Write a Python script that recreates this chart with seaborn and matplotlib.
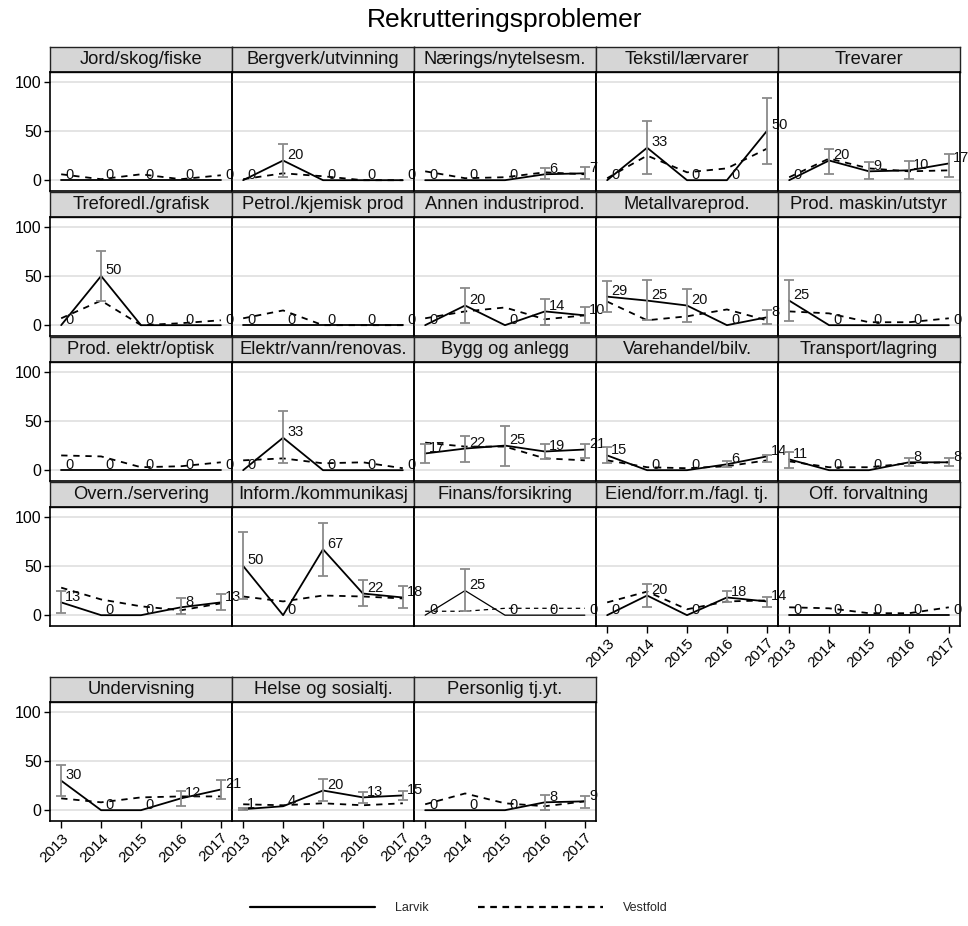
import numpy as np
import pandas as pd
import seaborn as sns
import matplotlib.pyplot as plt
from matplotlib.lines import Line2D

# Data (percent of firms reporting recruitment problems)
years = [2013, 2014, 2015, 2016, 2017]
industries = [
    "Jord/skog/fiske", "Bergverk/utvinning", "Nærings/nytelsesm.", "Tekstil/lærvarer", "Trevarer",
    "Treforedl./grafisk", "Petrol./kjemisk prod", "Annen industriprod.", "Metallvareprod.", "Prod. maskin/utstyr",
    "Prod. elektr/optisk", "Elektr/vann/renovas.", "Bygg og anlegg", "Varehandel/bilv.", "Transport/lagring",
    "Overn./servering", "Inform./kommunikasj", "Finans/forsikring", "Eiend/forr.m./fagl. tj.", "Off. forvaltning",
    "Undervisning", "Helse og sosialtj.", "Personlig tj.yt.",
]
larvik = [
    [0, 0, 0, 0, 0], [0, 20, 0, 0, 0], [0, 0, 0, 6, 7], [0, 33, 0, 0, 50], [0, 20, 9, 10, 17],
    [0, 50, 0, 0, 0], [0, 0, 0, 0, 0], [0, 20, 0, 14, 10], [29, 25, 20, 0, 8], [25, 0, 0, 0, 0],
    [0, 0, 0, 0, 0], [0, 33, 0, 0, 0], [17, 22, 25, 19, 21], [15, 0, 0, 6, 14], [11, 0, 0, 8, 8],
    [13, 0, 0, 8, 13], [50, 0, 67, 22, 18], [0, 25, 0, 0, 0], [0, 20, 0, 18, 14], [0, 0, 0, 0, 0],
    [30, 0, 0, 12, 21], [1, 4, 20, 13, 15], [0, 0, 0, 8, 9],
]
vestfold = [
    [6, 1, 6, 1, 5], [1, 7, 4, 0, 0], [9, 2, 3, 8, 6], [2, 25, 8, 12, 32], [3, 22, 12, 9, 10],
    [7, 25, 0, 2, 5], [7, 15, 0, 0, 0], [7, 14, 18, 6, 10], [24, 5, 9, 16, 5], [14, 12, 3, 3, 7],
    [15, 14, 3, 4, 8], [10, 12, 7, 8, 2], [28, 24, 24, 12, 10], [10, 3, 2, 4, 10], [9, 3, 3, 7, 8],
    [28, 16, 9, 5, 12], [19, 14, 20, 19, 17], [4, 4, 7, 7, 7], [13, 24, 6, 14, 15], [8, 7, 2, 2, 8],
    [12, 8, 13, 14, 14], [6, 5, 7, 5, 7], [6, 17, 7, 4, 9],
]
N = None
ci_low = [
    [N, N, N, N, N], [N, 3, N, N, N], [N, N, N, 1, 1], [N, 6, N, N, 16], [N, 6, 1, 1, 3],
    [N, 25, N, N, N], [N, N, N, N, N], [N, 2, N, 0, 2], [13, 5, 3, N, 1], [4, N, N, N, N],
    [N, N, N, N, N], [N, 7, N, N, N], [7, 8, 4, 11, 12], [7, N, N, 3, 8], [2, N, N, 4, 4],
    [2, N, N, 1, 5], [16, N, 40, 9, 7], [N, 4, N, N, N], [N, 8, N, 13, 8], [N, N, N, N, N],
    [14, N, N, 4, 11], [0, N, 9, 7, 10], [N, N, N, 0, 2],
]
ci_high = [
    [N, N, N, N, N], [N, 37, N, N, N], [N, N, N, 12, 13], [N, 60, N, N, 84], [N, 32, 18, 20, 27],
    [N, 75, N, N, N], [N, N, N, N, N], [N, 38, N, 27, 18], [45, 46, 37, N, 15], [46, N, N, N, N],
    [N, N, N, N, N], [N, 60, N, N, N], [27, 35, 45, 27, 27], [24, N, N, 9, 15], [18, N, N, 12, 12],
    [25, N, N, 17, 22], [85, N, 94, 36, 30], [N, 47, N, N, N], [N, 32, N, 25, 18], [N, N, N, N, N],
    [46, N, N, 19, 31], [2, N, 32, 18, 20], [N, N, N, 15, 14],
]

sns.set_theme(style='white')
plt.rcParams['font.family'] = ['Liberation Sans', 'DejaVu Sans']

rows = []
for name, lv, vf in zip(industries, larvik, vestfold):
    for yr, a, b in zip(years, lv, vf):
        rows.append({'bransje': name, 'year': yr, 'region': 'Larvik', 'pct': a})
        rows.append({'bransje': name, 'year': yr, 'region': 'Vestfold', 'pct': b})
df = pd.DataFrame(rows)

W, H = 968, 926
fig = plt.figure(figsize=(W / 100, H / 100), dpi=100, facecolor='white')
col_left = [50, 232, 414, 596, 778]
row_top = [47, 192, 337, 482, 677]
pw, sh, ph = 182, 25, 119
bottom_panels = {18, 19, 20, 21, 22}
dashes = {'Larvik': '', 'Vestfold': (3.5, 3.2)}

for i, name in enumerate(industries):
    r, c = divmod(i, 5)
    x0, top = col_left[c], row_top[r]

    # strip header
    sax = fig.add_axes([x0 / W, 1 - (top + sh) / H, pw / W, sh / H])
    sax.set_facecolor('#d6d6d6')
    sax.set_xticks([])
    sax.set_yticks([])
    for s in sax.spines.values():
        s.set_color('#222222')
        s.set_linewidth(1.0)
    sax.text(0.5, 0.5, name, ha='center', va='center', fontsize=13.2, color='#111111')

    ax = fig.add_axes([x0 / W, 1 - (top + sh + ph) / H, pw / W, ph / H])
    ax.patch.set_alpha(0)
    ax.set_axisbelow(True)
    sub = df[df['bransje'] == name]
    sns.lineplot(data=sub, x='year', y='pct', style='region', dashes=dashes,
                 color='black', linewidth=0.9 if name == 'Finans/forsikring' else 1.3,
                 legend=False, ax=ax, zorder=3)

    lo = np.array([np.nan if v is None else v for v in ci_low[i]], dtype=float)
    hi = np.array([np.nan if v is None else v for v in ci_high[i]], dtype=float)
    mid = (lo + hi) / 2
    ax.errorbar(years, mid, yerr=(hi - lo) / 2, fmt='none', ecolor='#8a8a8a',
                elinewidth=1.3, capsize=3.3, capthick=1.3, zorder=4)

    for yr, v in zip(years, larvik[i]):
        t = ax.annotate(str(v), (yr, v), xytext=(3, 4), textcoords='offset points',
                        ha='left', va='center', fontsize=10.5, color='#111111', zorder=5,
                        annotation_clip=False)
        t.set_clip_on(False)

    ax.set_xlim(2012.72, 2017.28)
    ax.set_ylim(-11, 110)
    ax.set_yticks([0, 50, 100])
    ax.grid(axis='y', color='#e2e2e2', linewidth=1.3)
    ax.grid(axis='x', visible=False)
    ax.set_xlabel('')
    ax.set_ylabel('')
    for s in ax.spines.values():
        s.set_color('black')
        s.set_linewidth(1.2)

    if c == 0:
        ax.tick_params(axis='y', left=True, length=4, width=1, color='black',
                       labelsize=11.5, pad=2, labelcolor='black')
    else:
        ax.tick_params(axis='y', left=False, labelleft=False)

    if i in bottom_panels:
        ax.set_xticks(years)
        ax.set_xticklabels([str(y) for y in years], rotation=45, ha='right',
                           rotation_mode='anchor', fontsize=11, color='black')
        ax.tick_params(axis='x', bottom=True, length=5, width=1, color='black', pad=2)
    else:
        ax.set_xticks([])

fig.text(505 / W, 1 - 20 / H, 'Rekrutteringsproblemer', ha='center', va='center',
         fontsize=19, color='black')

handles = [Line2D([], [], color='black', lw=1.6),
           Line2D([], [], color='black', lw=1.6, dashes=(3, 2.5))]
fig.legend(handles, ['Larvik', 'Vestfold'], loc='center', bbox_to_anchor=(459 / W, 1 - 908 / H),
           ncol=2, frameon=False, fontsize=9, handlelength=10, handletextpad=1.6,
           columnspacing=3.9)

plt.savefig('out.png', dpi=100, facecolor='white')
